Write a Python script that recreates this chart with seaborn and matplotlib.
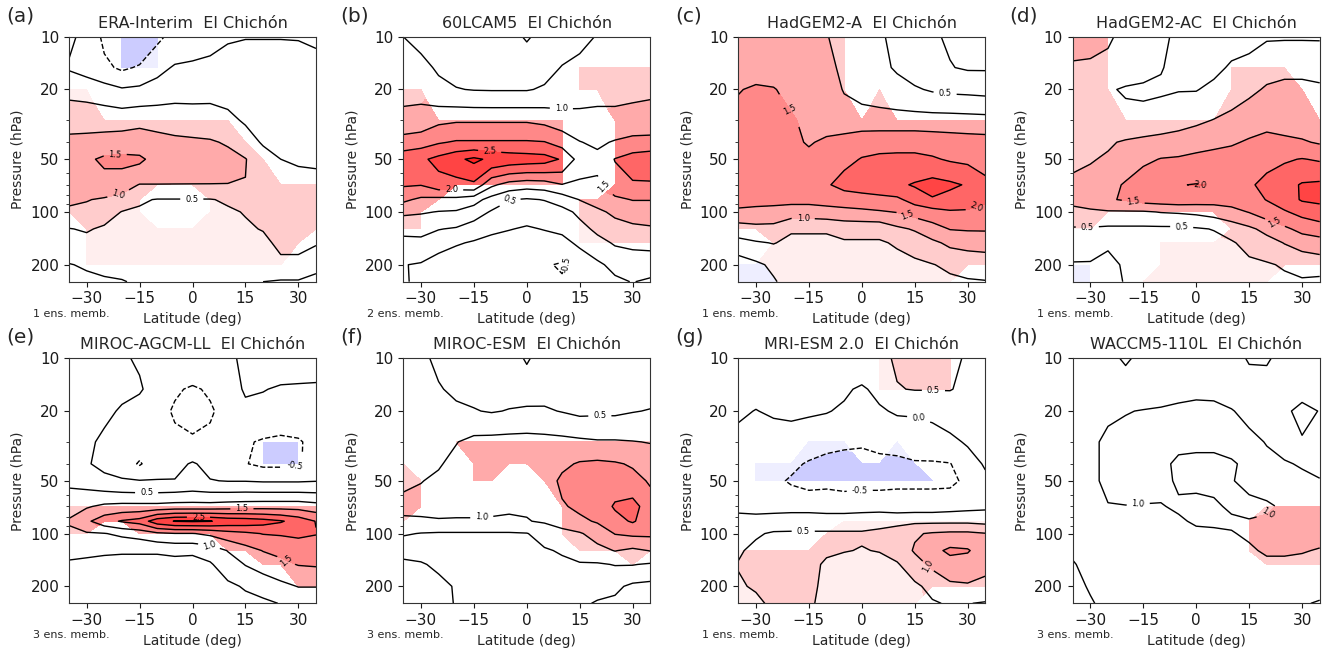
"""
El Chichón response panels
Zonal-mean anomaly cross sections (latitude vs pressure) for the
reanalysis and seven models; colour only where the signal is significant.
"""

import numpy as np
import matplotlib
matplotlib.use("Agg")
import matplotlib.pyplot as plt
from matplotlib.colors import Normalize
from matplotlib.ticker import NullFormatter
import seaborn as sns

# ---------------------------------------------------------------------------
# Grid
# ---------------------------------------------------------------------------
lat = [-35, -30, -25, -20, -15, -10, -5, 0, 5, 10, 15, 20, 25, 30, 35]
plev = [10, 15, 20, 30, 40, 50, 70, 85, 100, 125, 150, 200, 250]

# ---------------------------------------------------------------------------
# Fields (rows = plev, cols = lat) and significance masks ('1' = significant)
# ---------------------------------------------------------------------------
era_field = [
    [0.10, -0.15, -0.60, -0.95, -0.90, -0.60, -0.35, -0.30, -0.20, -0.05, -0.02, -0.02, -0.02, -0.03, -0.10],
    [-0.05, -0.20, -0.40, -0.58, -0.45, -0.15, 0.05, 0.10, 0.15, 0.20, 0.25, 0.25, 0.25, 0.25, 0.20],
    [0.35, 0.30, 0.19, 0.05, 0.10, 0.20, 0.30, 0.32, 0.35, 0.35, 0.35, 0.35, 0.35, 0.35, 0.35],
    [0.85, 0.85, 0.85, 0.85, 0.90, 0.85, 0.80, 0.75, 0.72, 0.60, 0.45, 0.40, 0.40, 0.40, 0.40],
    [1.10, 1.12, 1.15, 1.18, 1.20, 1.15, 1.10, 1.08, 1.05, 0.95, 0.70, 0.45, 0.40, 0.40, 0.42],
    [1.25, 1.40, 1.60, 1.65, 1.60, 1.30, 1.25, 1.22, 1.20, 1.15, 1.02, 0.70, 0.50, 0.45, 0.45],
    [1.15, 1.20, 1.30, 1.20, 0.98, 0.99, 0.99, 0.99, 0.99, 0.99, 0.99, 0.92, 0.80, 0.65, 0.60],
    [1.05, 1.02, 0.95, 0.85, 0.55, 0.48, 0.48, 0.48, 0.48, 0.55, 0.70, 0.80, 0.78, 0.72, 0.68],
    [0.95, 0.90, 0.75, 0.48, 0.45, 0.42, 0.40, 0.40, 0.42, 0.45, 0.52, 0.70, 0.75, 0.70, 0.65],
    [0.48, 0.55, 0.42, 0.38, 0.35, 0.33, 0.30, 0.30, 0.32, 0.38, 0.45, 0.52, 0.68, 0.65, 0.60],
    [0.30, 0.35, 0.30, 0.28, 0.25, 0.25, 0.22, 0.22, 0.25, 0.30, 0.38, 0.40, 0.60, 0.60, 0.55],
    [-0.02, 0.05, 0.10, 0.12, 0.15, 0.15, 0.15, 0.15, 0.18, 0.20, 0.25, 0.30, 0.40, 0.40, 0.10],
    [-0.10, -0.10, -0.05, -0.02, 0.05, 0.08, 0.08, 0.08, 0.10, 0.10, 0.05, 0.00, -0.05, -0.05, -0.10],
]
era_sig = [
    "000111000000000",
    "000111000000000",
    "110000000000000",
    "111111111100000",
    "111111111110000",
    "111111111111000",
    "111111111111111",
    "111110001111111",
    "111110001111111",
    "011111111111111",
    "011111111111110",
    "011111111111100",
    "000000000000000",
]

cam_field = [
    [0.50, 0.40, 0.35, 0.30, 0.25, 0.20, 0.15, -0.05, 0.15, 0.30, 0.40, 0.52, 0.60, 0.62, 0.62],
    [0.65, 0.60, 0.45, 0.35, 0.30, 0.30, 0.30, 0.30, 0.35, 0.52, 0.60, 0.70, 0.75, 0.78, 0.80],
    [0.85, 0.85, 0.60, 0.52, 0.48, 0.47, 0.47, 0.47, 0.55, 0.65, 0.80, 0.85, 0.90, 0.95, 0.98],
    [1.15, 1.20, 1.40, 1.45, 1.45, 1.45, 1.45, 1.45, 1.38, 1.25, 1.15, 1.15, 1.10, 1.08, 1.05],
    [1.72, 1.80, 1.95, 2.05, 2.05, 2.05, 2.05, 2.05, 2.02, 1.80, 1.52, 1.40, 1.55, 1.70, 1.75],
    [2.30, 2.40, 2.65, 2.90, 3.10, 2.90, 2.80, 2.75, 2.70, 2.45, 1.80, 1.65, 2.02, 2.20, 2.25],
    [2.05, 2.02, 2.30, 2.30, 2.40, 1.60, 1.30, 1.20, 1.25, 1.48, 1.40, 1.40, 1.80, 1.95, 1.95],
    [1.60, 1.40, 1.35, 1.35, 1.20, 0.80, 0.52, 0.45, 0.52, 0.70, 1.02, 1.20, 1.40, 1.52, 1.52],
    [1.10, 1.05, 0.98, 0.95, 0.75, 0.45, 0.25, 0.20, 0.25, 0.35, 0.60, 0.90, 1.10, 1.20, 1.20],
    [0.60, 0.60, 0.52, 0.45, 0.25, 0.10, 0.02, -0.05, 0.02, 0.10, 0.35, 0.60, 0.80, 0.90, 0.95],
    [0.40, 0.42, 0.20, 0.05, -0.05, -0.15, -0.20, -0.25, -0.20, -0.15, 0.10, 0.35, 0.55, 0.60, 0.60],
    [0.02, -0.05, -0.25, -0.35, -0.40, -0.45, -0.45, -0.45, -0.45, -0.55, -0.35, -0.10, 0.15, 0.25, 0.30],
    [0.05, -0.10, -0.35, -0.40, -0.40, -0.40, -0.40, -0.40, -0.45, -0.45, -0.40, -0.25, -0.10, 0.02, -0.10],
]
cam_sig = [
    "000000000000000",
    "000000000011111",
    "110000000011111",
    "111111111100111",
    "111111111100111",
    "111111111100111",
    "111111111100111",
    "111000000011111",
    "110000000011111",
    "110000000011111",
    "000000000011111",
    "000000000000000",
    "000000000000000",
]

hada_field = [
    [1.30, 1.30, 1.30, 1.28, 1.20, 1.02, 0.85, 0.70, 0.55, 0.40, 0.20, 0.05, -0.05, -0.10, -0.10],
    [1.35, 1.35, 1.35, 1.30, 1.22, 1.10, 0.92, 0.75, 0.60, 0.45, 0.30, 0.15, 0.02, -0.05, -0.05],
    [1.48, 1.55, 1.52, 1.40, 1.30, 1.15, 0.98, 0.85, 0.75, 0.65, 0.55, 0.45, 0.40, 0.38, 0.35],
    [1.62, 1.65, 1.62, 1.55, 1.40, 1.25, 1.15, 1.20, 1.22, 1.22, 1.22, 1.22, 1.22, 1.20, 1.18],
    [1.70, 1.72, 1.70, 1.62, 1.45, 1.60, 1.75, 1.85, 1.85, 1.85, 1.85, 1.80, 1.75, 1.72, 1.70],
    [1.75, 1.78, 1.78, 1.72, 1.65, 1.70, 1.90, 2.02, 2.08, 2.10, 2.10, 2.05, 1.95, 1.90, 1.85],
    [1.72, 1.72, 1.70, 1.70, 1.72, 1.95, 2.15, 2.25, 2.30, 2.40, 2.55, 2.70, 2.60, 2.45, 2.10],
    [1.70, 1.68, 1.68, 1.65, 1.65, 1.70, 1.75, 1.78, 1.85, 1.90, 2.20, 2.45, 2.30, 2.20, 2.05],
    [1.40, 1.35, 1.30, 1.25, 1.25, 1.30, 1.35, 1.40, 1.45, 1.52, 1.70, 1.80, 1.95, 1.95, 1.90],
    [0.75, 0.85, 0.85, 0.55, 0.55, 0.55, 0.65, 0.65, 0.65, 0.90, 1.05, 1.30, 1.52, 1.55, 1.55],
    [0.35, 0.45, 0.52, 0.40, 0.40, 0.40, 0.45, 0.45, 0.45, 0.55, 0.70, 0.90, 1.10, 1.15, 1.20],
    [-0.30, -0.10, 0.10, 0.25, 0.25, 0.25, 0.30, 0.30, 0.30, 0.35, 0.40, 0.48, 0.60, 0.70, 0.70],
    [-0.20, -0.20, -0.05, 0.20, 0.20, 0.20, 0.25, 0.25, 0.25, 0.30, 0.30, 0.30, 0.40, 0.45, 0.48],
]
hada_sig = [
    "111111100000000",
    "111111100000000",
    "111111101000000",
    "111111111111111",
    "111111111111111",
    "111111111111111",
    "111111111111111",
    "111111111111111",
    "111111111111111",
    "111111111111111",
    "001111111111111",
    "111111111111111",
    "111111111111100",
]

hadac_field = [
    [1.15, 1.10, 1.05, 0.90, 0.70, 0.55, 0.45, 0.30, 0.30, 0.35, 0.40, 0.45, 0.45, 0.45, 0.45],
    [0.95, 0.95, 0.90, 0.75, 0.60, 0.52, 0.40, 0.30, 0.40, 0.55, 0.60, 0.85, 0.95, 0.95, 0.90],
    [0.85, 0.80, 0.55, 0.45, 0.45, 0.45, 0.48, 0.48, 0.60, 0.75, 0.90, 1.05, 1.05, 1.05, 1.05],
    [0.85, 0.85, 0.80, 0.65, 0.60, 0.70, 0.80, 0.90, 1.02, 1.15, 1.30, 1.35, 1.30, 1.25, 1.20],
    [0.88, 0.90, 0.95, 1.05, 1.15, 1.20, 1.25, 1.35, 1.40, 1.45, 1.55, 1.65, 1.60, 1.55, 1.45],
    [0.95, 0.97, 1.05, 1.25, 1.40, 1.52, 1.55, 1.60, 1.65, 1.70, 1.75, 1.90, 1.95, 2.02, 1.95],
    [1.05, 1.15, 1.35, 1.55, 1.80, 1.90, 1.98, 2.02, 1.98, 1.95, 1.95, 2.10, 2.30, 2.55, 2.60],
    [1.15, 1.30, 1.45, 1.55, 1.70, 1.75, 1.80, 1.75, 1.70, 1.70, 1.80, 2.02, 2.25, 2.55, 2.60],
    [0.85, 0.90, 0.95, 0.95, 0.95, 1.02, 1.05, 1.10, 1.20, 1.35, 1.52, 1.75, 1.95, 2.15, 2.30],
    [0.45, 0.45, 0.40, 0.40, 0.40, 0.40, 0.40, 0.45, 0.52, 0.70, 0.90, 1.15, 1.40, 1.65, 1.75],
    [0.30, 0.25, 0.05, 0.20, 0.25, 0.25, 0.25, 0.30, 0.35, 0.45, 0.65, 0.80, 1.02, 1.20, 1.30],
    [-0.05, -0.05, -0.10, 0.05, 0.15, 0.15, 0.20, 0.20, 0.25, 0.30, 0.40, 0.45, 0.55, 0.65, 0.70],
    [-0.10, -0.10, -0.10, 0.02, 0.10, 0.15, 0.15, 0.20, 0.20, 0.25, 0.30, 0.35, 0.40, 0.45, 0.40],
]
hadac_sig = [
    "111000000000000",
    "111000000111100",
    "111000000111110",
    "111111111111111",
    "111111111111111",
    "111111111111111",
    "111111111111111",
    "111111111111111",
    "111111111111111",
    "110000000111111",
    "000001111111111",
    "110001111111111",
    "110011111111000",
]

mirocll_field = [
    [0.20, 0.15, 0.10, 0.05, -0.05, -0.10, -0.15, -0.20, -0.20, -0.10, 0.10, 0.20, 0.25, 0.30, 0.30],
    [0.25, 0.20, 0.15, 0.10, 0.05, -0.20, -0.45, -0.55, -0.45, -0.20, 0.05, 0.02, -0.05, -0.08, -0.10],
    [0.30, 0.25, 0.10, -0.05, -0.20, -0.35, -0.55, -0.62, -0.55, -0.35, -0.10, -0.15, -0.20, -0.20, -0.20],
    [0.25, 0.10, -0.10, -0.20, -0.25, -0.30, -0.40, -0.45, -0.40, -0.35, -0.45, -0.55, -0.60, -0.55, -0.35],
    [0.20, 0.05, -0.15, -0.25, -0.55, -0.20, -0.15, 0.05, -0.15, -0.35, -0.48, -0.60, -0.60, -0.55, -0.30],
    [0.40, 0.30, 0.15, 0.05, 0.02, 0.02, 0.02, 0.10, 0.02, -0.02, -0.02, -0.05, -0.05, -0.05, -0.02],
    [0.80, 0.95, 1.10, 1.15, 1.15, 1.15, 1.20, 1.20, 1.20, 1.25, 1.28, 1.30, 1.30, 1.30, 1.20],
    [1.05, 1.40, 1.80, 2.05, 2.20, 2.80, 3.02, 3.05, 3.02, 2.85, 2.80, 2.70, 2.55, 2.30, 1.98],
    [0.90, 0.95, 0.98, 1.10, 1.20, 1.40, 1.48, 1.48, 1.60, 1.80, 1.90, 2.02, 2.05, 2.10, 2.02],
    [0.60, 0.55, 0.55, 0.55, 0.55, 0.55, 0.60, 0.60, 0.70, 1.02, 1.30, 1.52, 1.60, 1.70, 1.75],
    [0.45, 0.45, 0.40, 0.35, 0.35, 0.35, 0.35, 0.30, 0.45, 0.75, 1.02, 1.20, 1.40, 1.52, 1.55],
    [0.30, 0.25, 0.25, 0.25, 0.25, 0.25, 0.25, 0.25, 0.30, 0.40, 0.55, 0.70, 0.85, 1.02, 1.02],
    [0.20, 0.20, 0.20, 0.20, 0.20, 0.20, 0.20, 0.20, 0.25, 0.30, 0.35, 0.40, 0.52, 0.55, 0.55],
]
mirocll_sig = [
    "000000000000000",
    "000000000000000",
    "000000000000000",
    "000000000001110",
    "000000000001110",
    "000000000000000",
    "111111111111111",
    "111111111111111",
    "110011111111111",
    "000000000111111",
    "000000000001111",
    "000000000000011",
    "000000000000000",
]

mirocesm_field = [
    [0.60, 0.55, 0.45, 0.40, 0.40, 0.35, 0.20, -0.05, 0.20, 0.30, 0.30, 0.30, 0.30, 0.30, 0.30],
    [0.65, 0.60, 0.52, 0.45, 0.40, 0.38, 0.35, 0.25, 0.35, 0.35, 0.35, 0.35, 0.35, 0.35, 0.35],
    [0.70, 0.65, 0.60, 0.55, 0.52, 0.47, 0.52, 0.58, 0.55, 0.48, 0.40, 0.42, 0.42, 0.48, 0.52],
    [0.80, 0.80, 0.80, 0.98, 1.15, 1.18, 1.20, 1.20, 1.18, 1.15, 1.10, 1.05, 1.05, 1.02, 0.98],
    [0.85, 0.88, 0.95, 1.15, 1.20, 1.20, 1.15, 1.10, 1.10, 1.40, 1.55, 1.60, 1.55, 1.45, 1.30],
    [0.90, 0.98, 1.10, 1.20, 1.25, 1.20, 1.15, 1.15, 1.25, 1.60, 1.75, 1.80, 1.80, 1.65, 1.45],
    [1.15, 1.20, 1.20, 1.15, 1.15, 1.10, 1.05, 1.05, 1.15, 1.45, 1.60, 1.75, 2.05, 2.20, 1.70],
    [0.90, 0.90, 0.95, 0.95, 0.95, 0.95, 0.95, 0.98, 1.05, 1.20, 1.40, 1.55, 1.85, 2.05, 1.75],
    [0.55, 0.48, 0.45, 0.45, 0.45, 0.45, 0.45, 0.48, 0.70, 0.85, 0.95, 1.20, 1.52, 1.60, 1.60],
    [0.15, 0.20, 0.30, 0.35, 0.35, 0.35, 0.35, 0.40, 0.45, 0.55, 0.75, 0.85, 1.02, 0.90, 1.02],
    [-0.10, -0.05, 0.10, 0.25, 0.25, 0.25, 0.25, 0.30, 0.35, 0.40, 0.45, 0.45, 0.52, 0.52, 0.45],
    [-0.20, -0.20, -0.15, 0.05, 0.15, 0.15, 0.20, 0.20, 0.20, 0.25, 0.25, 0.20, 0.10, -0.10, -0.15],
    [-0.20, -0.20, -0.10, 0.02, 0.10, 0.15, 0.15, 0.15, 0.15, 0.15, 0.10, -0.05, -0.10, -0.20, -0.25],
]
mirocesm_sig = [
    "000000000000000",
    "000000000000000",
    "000000000000000",
    "000111111111111",
    "100011111111111",
    "110011001111111",
    "110000000111111",
    "100000000111111",
    "000000000111111",
    "000000000011111",
    "000000000000010",
    "000000000000000",
    "000000000000000",
]

mri_field = [
    [0.10, 0.10, 0.10, 0.10, 0.10, 0.15, 0.20, 0.25, 0.40, 0.55, 0.65, 0.65, 0.60, 0.45, 0.30],
    [0.10, 0.10, 0.12, 0.12, 0.12, 0.10, 0.05, -0.05, 0.10, 0.48, 0.52, 0.52, 0.52, 0.40, 0.30],
    [0.05, -0.01, 0.05, 0.08, 0.05, 0.02, -0.05, -0.15, -0.05, 0.05, 0.05, 0.10, 0.20, 0.25, 0.25],
    [-0.10, -0.15, -0.20, -0.20, -0.25, -0.30, -0.40, -0.45, -0.40, -0.35, -0.25, -0.20, -0.10, 0.05, 0.10],
    [-0.15, -0.20, -0.25, -0.40, -0.55, -0.70, -0.70, -0.65, -0.60, -0.60, -0.55, -0.55, -0.52, -0.20, 0.05],
    [-0.20, -0.30, -0.40, -0.55, -0.65, -0.60, -0.65, -0.65, -0.65, -0.60, -0.60, -0.60, -0.60, -0.40, -0.10],
    [-0.15, -0.20, -0.20, -0.20, -0.20, -0.25, -0.25, -0.20, -0.20, -0.25, -0.25, -0.25, -0.20, -0.15, -0.10],
    [0.20, 0.20, 0.25, 0.30, 0.30, 0.30, 0.30, 0.30, 0.35, 0.35, 0.40, 0.40, 0.40, 0.40, 0.35],
    [0.40, 0.45, 0.55, 0.55, 0.55, 0.55, 0.55, 0.55, 0.60, 0.75, 0.95, 1.05, 1.10, 1.10, 1.02],
    [0.45, 0.60, 0.65, 0.65, 0.62, 0.55, 0.52, 0.48, 0.52, 0.70, 1.05, 1.35, 1.60, 1.55, 1.20],
    [0.52, 0.65, 0.70, 0.70, 0.60, 0.45, 0.35, 0.35, 0.35, 0.45, 0.80, 1.10, 1.30, 1.25, 1.05],
    [0.45, 0.55, 0.65, 0.65, 0.60, 0.40, 0.30, 0.30, 0.30, 0.35, 0.40, 0.65, 0.90, 0.95, 0.95],
    [0.30, 0.40, 0.60, 0.60, 0.55, 0.40, 0.30, 0.30, 0.30, 0.30, 0.35, 0.45, 0.55, 0.52, 0.45],
]
mri_sig = [
    "000000001111100",
    "000000001111100",
    "000000000000000",
    "000011100100000",
    "011111111110000",
    "011111111111100",
    "000000000000000",
    "000000111111111",
    "000001111111111",
    "111111111111111",
    "111111111111111",
    "111111111111111",
    "111111111110000",
]

waccm_field = [
    [0.70, 0.70, 0.60, 0.45, 0.60, 0.70, 0.75, 0.80, 0.80, 0.70, 0.45, 0.45, 0.65, 0.75, 0.80],
    [0.75, 0.75, 0.75, 0.70, 0.75, 0.80, 0.85, 0.90, 0.90, 0.85, 0.75, 0.70, 0.75, 0.80, 0.85],
    [0.80, 0.85, 0.92, 0.98, 1.02, 1.05, 1.10, 1.12, 1.10, 1.02, 0.90, 0.85, 0.90, 1.15, 0.98],
    [0.80, 0.90, 1.10, 1.15, 1.15, 1.15, 1.10, 1.10, 1.10, 1.15, 1.10, 0.98, 0.92, 0.95, 0.80],
    [0.80, 0.90, 1.10, 1.15, 1.15, 1.10, 0.92, 0.88, 0.88, 0.95, 1.10, 1.10, 1.02, 0.98, 0.90],
    [0.80, 0.90, 1.10, 1.15, 1.15, 1.10, 0.95, 0.92, 0.92, 0.98, 1.10, 1.15, 1.10, 1.05, 1.02],
    [0.85, 0.90, 0.98, 0.99, 0.98, 0.98, 1.05, 1.10, 1.05, 0.95, 0.90, 0.95, 1.05, 1.15, 1.20],
    [0.80, 0.85, 0.90, 0.90, 0.88, 0.88, 0.95, 1.05, 1.05, 1.05, 1.02, 1.05, 1.15, 1.20, 1.25],
    [0.75, 0.80, 0.85, 0.85, 0.85, 0.85, 0.88, 0.92, 0.95, 0.98, 1.05, 1.10, 1.15, 1.15, 1.10],
    [0.60, 0.75, 0.80, 0.80, 0.80, 0.80, 0.82, 0.85, 0.88, 0.90, 0.95, 1.05, 1.05, 1.02, 0.98],
    [0.45, 0.70, 0.75, 0.75, 0.75, 0.75, 0.78, 0.80, 0.82, 0.85, 0.88, 0.92, 0.92, 0.92, 0.90],
    [0.35, 0.55, 0.70, 0.70, 0.70, 0.70, 0.72, 0.75, 0.75, 0.78, 0.80, 0.80, 0.80, 0.75, 0.70],
    [0.30, 0.45, 0.65, 0.65, 0.65, 0.65, 0.68, 0.70, 0.70, 0.72, 0.72, 0.72, 0.70, 0.55, 0.45],
]
waccm_sig = [
    "000000000000000",
    "000000000000000",
    "000000000000000",
    "000000000000000",
    "000000000000000",
    "000000000000000",
    "000000000001111",
    "000000000011111",
    "000000000011111",
    "000000000011111",
    "000000000001111",
    "000000000000000",
    "000000000000000",
]

panel_letters = ["(a)", "(b)", "(c)", "(d)", "(e)", "(f)", "(g)", "(h)"]
model_names = ["ERA-Interim", "60LCAM5", "HadGEM2-A", "HadGEM2-AC",
               "MIROC-AGCM-LL", "MIROC-ESM", "MRI-ESM 2.0", "WACCM5-110L"]
ens_members = [1, 2, 1, 1, 3, 3, 1, 3]
fields = [era_field, cam_field, hada_field, hadac_field,
          mirocll_field, mirocesm_field, mri_field, waccm_field]
sig_masks = [era_sig, cam_sig, hada_sig, hadac_sig,
             mirocll_sig, mirocesm_sig, mri_sig, waccm_sig]

# where the contour labels sit (lat, hPa)
label_spots = [
    [(-21.9, 47.7), (-21.0, 78.9), (-0.2, 82.8)],
    [(9.8, 25.4), (-10.5, 43.7), (-21.3, 77.3), (-5.3, 81.9), (24.0, 63.8), (14.5, 203.0)],
    [(-20.1, 24.1), (23.6, 22.1), (-16.6, 112.0), (12.3, 110.0), (33.1, 98.5)],
    [(1.1, 70.3), (-17.8, 86.5), (-3.8, 112.0), (21.0, 123.0), (-31.0, 147.0)],
    [(-13.0, 58.5), (14.0, 71.8), (1.7, 79.2), (5.0, 113.0), (28.7, 134.0), (29.0, 37.8)],
    [(20.7, 22.4), (-12.8, 78.7)],
    [(20.3, 15.1), (16.1, 22.4), (-0.5, 62.5), (-16.6, 98.8), (21.3, 149.0)],
    [(-16.8, 48.0), (25.7, 98.7)],
]

# ---------------------------------------------------------------------------
# Style
# ---------------------------------------------------------------------------
sns.set_style("ticks", {"axes.edgecolor": "0.2", "xtick.color": "0.1", "ytick.color": "0.1"})
plt.rcParams["font.family"] = ["DejaVu Sans"]

fill_levels = np.arange(-3.0, 3.51, 0.5)
line_levels = np.arange(-1.0, 3.51, 0.5)
norm = Normalize(vmin=-3.75, vmax=3.75)

W, H = 1322, 650
col_left_px = [69, 403.3, 738.3, 1072.7]
row_top_px = [36.7, 358.3]
ax_w_px, ax_h_px = 247, 245


def draw_panel(ax, field, sig, spots):
    """Shaded significant anomaly plus black contours"""
    z = np.array(field)
    mask = np.array([[c == "0" for c in row] for row in sig])
    ax.contourf(lat, plev, np.ma.masked_array(z, mask), levels=fill_levels,
                cmap="bwr", norm=norm, extend="both")
    cs = ax.contour(lat, plev, z, levels=line_levels, colors="k", linewidths=1.0)
    ax.clabel(cs, fmt="%.1f", fontsize=6, inline=True, manual=spots)

    ax.set_yscale("log")
    ax.set_ylim(250, 10)
    ax.set_xlim(-35, 35)
    ax.set_yticks([10, 20, 50, 100, 200])
    ax.set_yticklabels(["10", "20", "50", "100", "200"])
    ax.yaxis.set_minor_formatter(NullFormatter())
    ax.set_xticks([-30, -15, 0, 15, 30])
    ax.tick_params(axis="both", which="major", labelsize=11)
    ax.set_xlabel("Latitude (deg)", fontsize=10)
    ax.set_ylabel("Pressure (hPa)", fontsize=10)


fig = plt.figure(figsize=(W / 100, H / 100), dpi=100)

for idx in range(8):
    r, c = divmod(idx, 4)
    left = col_left_px[c] / W
    bottom = 1 - (row_top_px[r] + ax_h_px) / H
    ax = fig.add_axes([left, bottom, ax_w_px / W, ax_h_px / H])
    draw_panel(ax, fields[idx], sig_masks[idx], label_spots[idx])

    ax.set_title(f"{model_names[idx]}  El Chichón", fontsize=11.5, pad=6.5)
    fig.text((col_left_px[c] - 63) / W, 1 - (row_top_px[r] - 21) / H,
             panel_letters[idx], fontsize=14.5, ha="left", va="center")
    ax.text(-0.145, -0.13, f"{ens_members[idx]} ens. memb.", transform=ax.transAxes,
            fontsize=8, ha="left", va="center")

fig.savefig("out.png", dpi=100)
plt.close(fig)
